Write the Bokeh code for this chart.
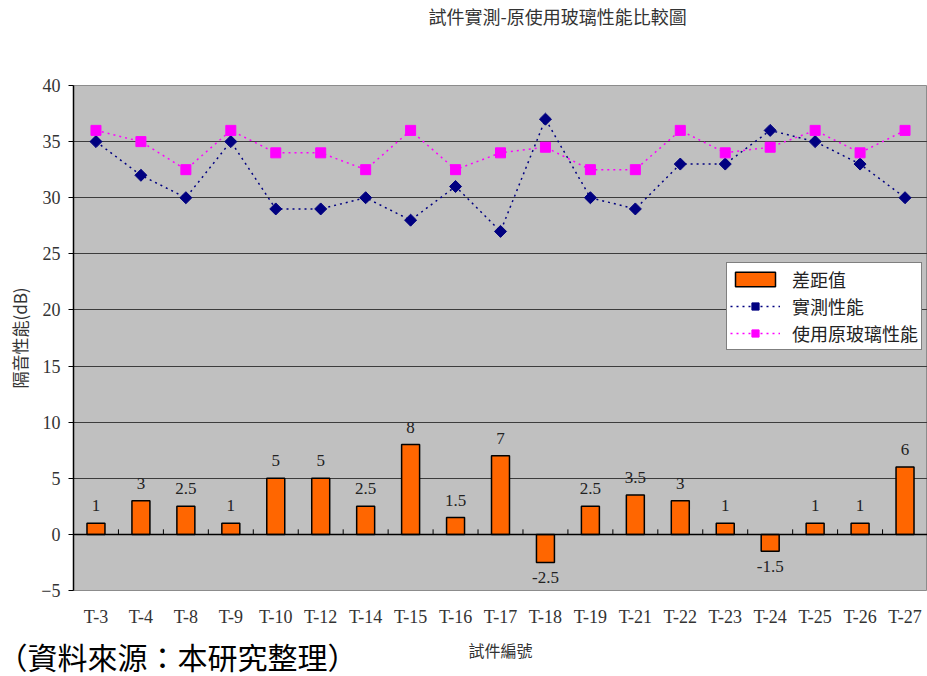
from math import pi
from bokeh.plotting import figure
from bokeh.models import (ColumnDataSource, Range1d, FixedTicker, Legend,
                          LegendItem, Span, Title)
from bokeh.core.properties import value
from bokeh.embed import file_html
from bokeh.resources import INLINE

# 試件編號
specimens = ["T-3", "T-4", "T-8", "T-9", "T-10", "T-12", "T-14", "T-15", "T-16", "T-17",
             "T-18", "T-19", "T-21", "T-22", "T-23", "T-24", "T-25", "T-26", "T-27"]
# 實測性能 (dB)
measured = [35, 32, 30, 35, 29, 29, 30, 28, 31, 27, 37, 30, 29, 33, 33, 36, 35, 33, 30]
# 使用原玻璃性能 (dB)
original = [36, 35, 32.5, 36, 34, 34, 32.5, 36, 32.5, 34, 34.5, 32.5, 32.5, 36, 34, 34.5, 36, 34, 36]
# 差距值 (dB)
difference = [1, 3, 2.5, 1, 5, 5, 2.5, 8, 1.5, 7, -2.5, 2.5, 3.5, 3, 1, -1.5, 1, 1, 6]
y_ticks = [-5, 0, 5, 10, 15, 20, 25, 30, 35, 40]

SERIF = "Liberation Serif"
CJK = "Noto Sans CJK TC"

idx = list(range(len(specimens)))

p = figure(width=927, height=676, frame_width=854, frame_height=505,
           min_border_left=73, min_border_right=0, min_border_top=85, min_border_bottom=86,
           x_range=Range1d(-0.5, len(specimens) - 0.5), y_range=Range1d(-5, 40),
           output_backend="svg", toolbar_location=None,
           background_fill_color="#C0C0C0", border_fill_color="white")

# empty band between the plot frame and the title
p.add_layout(Title(text=" ", text_font_size="1px", standoff=54), "above")

p.title.text = "試件實測-原使用玻璃性能比較圖"
p.title.text_font = CJK
p.title.text_font_size = "18px"
p.title.text_font_style = "normal"
p.title.text_color = "#333333"
p.title.align = "left"
p.title.offset = 355
p.title.standoff = 0

p.outline_line_color = "#8C8C8C"
p.outline_line_width = 1

# y axis
p.yaxis.ticker = FixedTicker(ticks=y_ticks)
p.yaxis.axis_line_color = "black"
p.yaxis.axis_line_width = 1.5
p.yaxis.major_tick_line_color = "black"
p.yaxis.major_tick_in = 0
p.yaxis.major_tick_out = 5
p.yaxis.minor_tick_line_color = None
p.yaxis.major_label_text_font = SERIF
p.yaxis.major_label_text_font_size = "18px"
p.yaxis.major_label_text_color = "#333333"
p.yaxis.major_label_standoff = 8
p.yaxis.axis_label = "隔音性能(dB)"
p.yaxis.axis_label_text_font = CJK
p.yaxis.axis_label_text_font_size = "17px"
p.yaxis.axis_label_text_font_style = "normal"
p.yaxis.axis_label_text_color = "#333333"
p.yaxis.axis_label_standoff = 6

# x axis: labels at the bottom, the axis line itself is drawn at zero
p.xaxis.ticker = FixedTicker(ticks=idx)
p.xaxis.major_label_overrides = {i: s for i, s in zip(idx, specimens)}
p.xaxis.axis_line_color = None
p.xaxis.major_tick_line_color = None
p.xaxis.major_tick_out = 0
p.xaxis.major_tick_in = 0
p.xaxis.minor_tick_line_color = None
p.xaxis.major_label_text_font = SERIF
p.xaxis.major_label_text_font_size = "18px"
p.xaxis.major_label_text_color = "#333333"
p.xaxis.major_label_standoff = 16
p.xaxis.axis_label = "試件編號"
p.xaxis.axis_label_text_font = CJK
p.xaxis.axis_label_text_font_size = "16px"
p.xaxis.axis_label_text_font_style = "normal"
p.xaxis.axis_label_text_color = "#333333"
p.xaxis.axis_label_standoff = 8

p.xgrid.grid_line_color = None
p.ygrid.ticker = FixedTicker(ticks=[t for t in y_ticks if -5 < t < 40])
p.ygrid.grid_line_color = "#3C3C3C"
p.ygrid.grid_line_width = 1

# zero line with small ticks between categories
p.add_layout(Span(location=0, dimension="width", line_color="black", line_width=1.5))
bounds = [i + 0.5 for i in idx[:-1]]
p.segment(x0=bounds, x1=bounds, y0=[0] * len(bounds), y1=[0.45] * len(bounds),
          line_color="black", line_width=1)

src = ColumnDataSource(dict(x=idx, diff=difference, meas=measured, orig=original))
bars = p.vbar(x="x", top="diff", bottom=0, width=0.4, source=src,
              fill_color="#FF6600", line_color="black", line_width=1.5)

meas_line = p.line("x", "meas", source=src, line_color="#000080", line_width=1.5,
                   line_dash="2 4")
meas_pts = p.scatter("x", "meas", source=src, marker="square", angle=pi / 4, size=8.5,
                     fill_color="#000080", line_color="#000080")
orig_line = p.line("x", "orig", source=src, line_color="#FF00FF", line_width=1.5,
                   line_dash="2 4")
orig_pts = p.scatter("x", "orig", source=src, marker="square", size=10,
                     fill_color="#FF00FF", line_color="#FF00FF")

# value labels on the bars
pos = ColumnDataSource(dict(x=[i for i, d in zip(idx, difference) if d >= 0],
                            y=[d for d in difference if d >= 0],
                            t=[f"{d:g}" for d in difference if d >= 0]))
neg = ColumnDataSource(dict(x=[i for i, d in zip(idx, difference) if d < 0],
                            y=[d for d in difference if d < 0],
                            t=[f"{d:g}" for d in difference if d < 0]))
p.text("x", "y", text="t", source=pos, text_align="center", text_baseline="bottom",
       y_offset=-12, text_font=value(SERIF), text_font_size="17px", text_color="#222222")
p.text("x", "y", text="t", source=neg, text_align="center", text_baseline="top",
       y_offset=10, text_font=value(SERIF), text_font_size="17px", text_color="#222222")

legend = Legend(items=[
    LegendItem(label="差距值", renderers=[bars]),
    LegendItem(label="實測性能", renderers=[meas_line, meas_pts]),
    LegendItem(label="使用原玻璃性能", renderers=[orig_line, orig_pts]),
], location=(653, 240))
legend.label_text_font = CJK
legend.label_text_font_size = "18px"
legend.label_text_color = "#222222"
legend.glyph_width = 50
legend.glyph_height = 18
legend.label_height = 20
legend.spacing = 1
legend.padding = 3
legend.margin = 0
legend.label_standoff = 12
legend.border_line_color = "black"
legend.border_line_width = 1.5
legend.background_fill_color = "white"
legend.background_fill_alpha = 1
p.add_layout(legend, "center")

# source note below the axis, pulled up beside the axis title
p.add_layout(Title(text="（資料來源：本研究整理）", text_font=CJK, text_font_size="30px",
                   text_font_style="normal", text_color="black", align="left",
                   vertical_align="top", offset=-76, standoff=-62), "below")

open("out.html", "w").write(file_html(p, INLINE))
